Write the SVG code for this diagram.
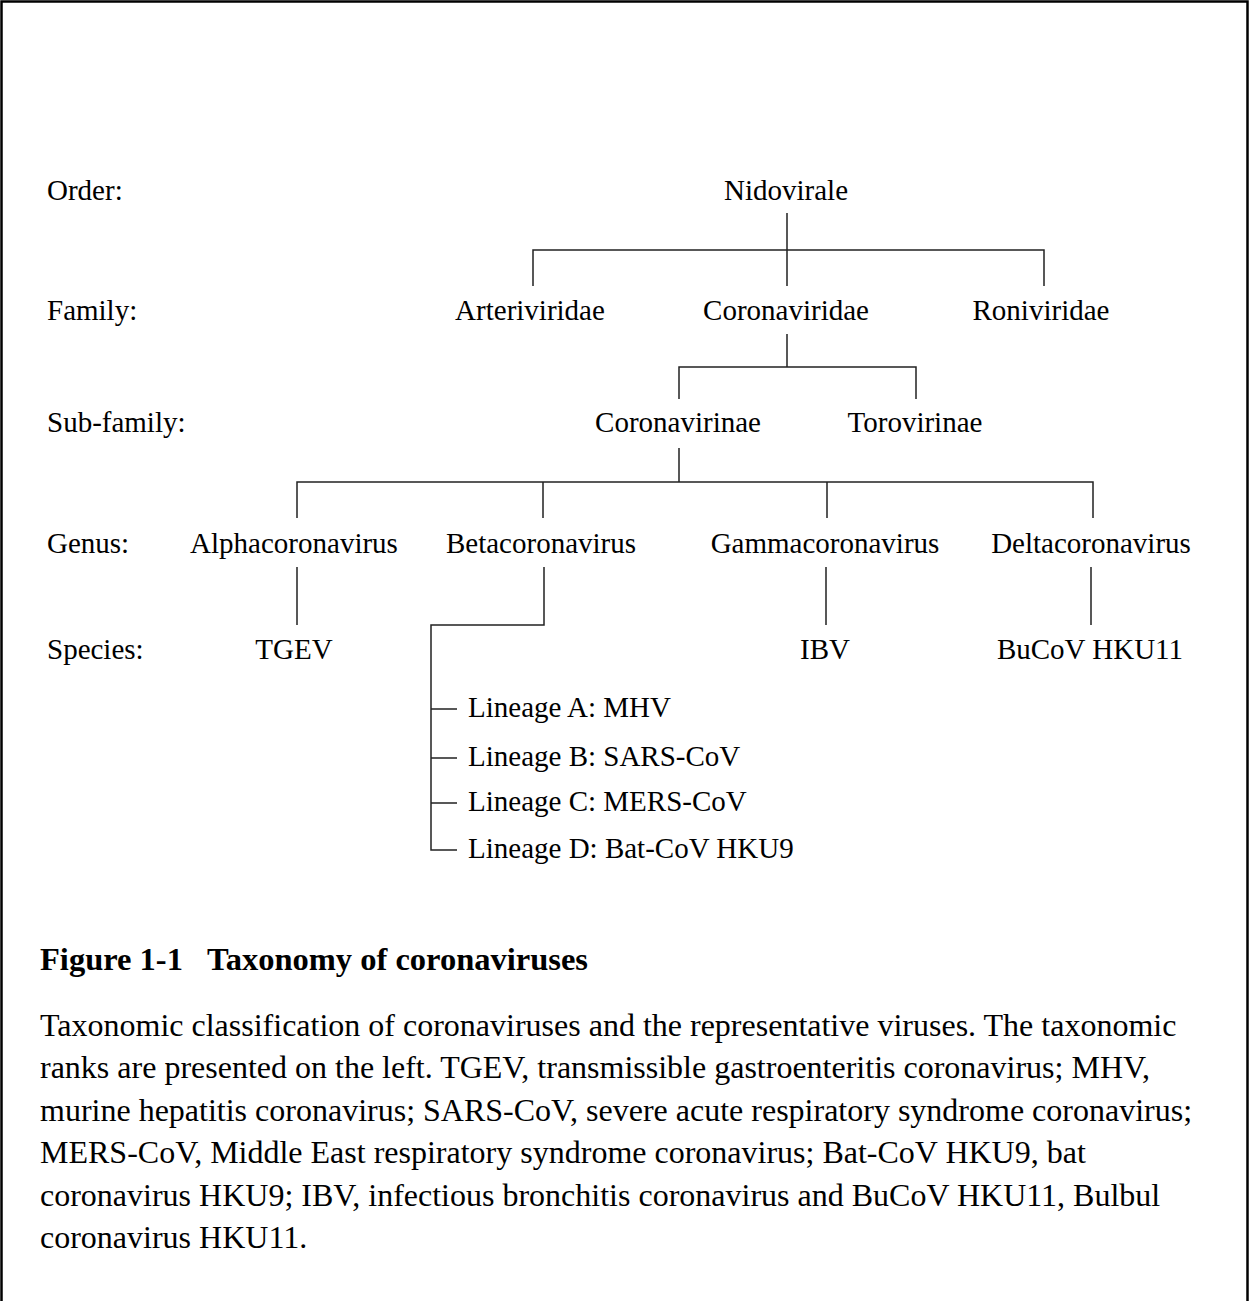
<svg xmlns="http://www.w3.org/2000/svg" width="1249" height="1301" viewBox="0 0 1249 1301">
<style>
text{font-family:"Liberation Serif","Times New Roman",serif;font-size:29px;fill:#000}
.c{text-anchor:middle}
.b{font-weight:bold;font-size:32.5px}
.cap{font-size:32px}
.ln{fill:none;stroke:#222;stroke-width:1.5}
</style>
<rect width="1249" height="1301" fill="#fff"/>
<path d="M1.5,1301 V1.5 H1247.5 V1301" fill="none" stroke="#000" stroke-width="2.5"/>
<g id="ranks">
<text x="47" y="200">Order:</text>
<text x="47" y="320">Family:</text>
<text x="47" y="432">Sub-family:</text>
<text x="47" y="553">Genus:</text>
<text x="47" y="659">Species:</text>
</g>
<g id="connectors" class="ln">
<path d="M787,213 V286 M533,286 V250 H1044 V286"/>
<path d="M787,334 V367 M679,399 V367 H916 V399"/>
<path d="M679,448 V482 M297,518 V482 H1093 V518 M543,482 V518 M827,482 V518"/>
<path d="M297,567 V625 M826,567 V625 M1091,567 V625"/>
<path d="M544,567 V625 H431 V850 H457 M431,709 H457 M431,758 H457 M431,803 H457"/>
</g>
<g id="n-nidovirale"><text class="c" x="786" y="200">Nidovirale</text></g>
<g id="n-arteriviridae"><text class="c" x="530" y="320">Arteriviridae</text></g>
<g id="n-coronaviridae"><text class="c" x="786" y="320">Coronaviridae</text></g>
<g id="n-roniviridae"><text class="c" x="1041" y="320">Roniviridae</text></g>
<g id="n-coronavirinae"><text class="c" x="678" y="432">Coronavirinae</text></g>
<g id="n-torovirinae"><text class="c" x="915" y="432">Torovirinae</text></g>
<g id="n-alpha"><text class="c" x="294" y="553">Alphacoronavirus</text></g>
<g id="n-beta"><text class="c" x="541" y="553">Betacoronavirus</text></g>
<g id="n-gamma"><text class="c" x="825" y="553">Gammacoronavirus</text></g>
<g id="n-delta"><text class="c" x="1091" y="553">Deltacoronavirus</text></g>
<g id="n-tgev"><text class="c" x="294" y="659">TGEV</text></g>
<g id="n-ibv"><text class="c" x="825" y="659">IBV</text></g>
<g id="n-bucov"><text class="c" x="1090" y="659">BuCoV HKU11</text></g>
<g id="n-linA"><text x="468" y="717">Lineage A: MHV</text></g>
<g id="n-linB"><text x="468" y="766">Lineage B: SARS-CoV</text></g>
<g id="n-linC"><text x="468" y="811">Lineage C: MERS-CoV</text></g>
<g id="n-linD"><text x="468" y="858">Lineage D: Bat-CoV HKU9</text></g>
<g id="caption">
<text class="b" x="40" y="970">Figure 1-1</text>
<text class="b" x="207" y="970">Taxonomy of coronaviruses</text>
<text class="cap" x="40" y="1036">Taxonomic classification of coronaviruses and the representative viruses. The taxonomic</text>
<text class="cap" x="40" y="1078">ranks are presented on the left. TGEV, transmissible gastroenteritis coronavirus; MHV,</text>
<text class="cap" x="40" y="1121">murine hepatitis coronavirus; SARS-CoV, severe acute respiratory syndrome coronavirus;</text>
<text class="cap" x="40" y="1163">MERS-CoV, Middle East respiratory syndrome coronavirus; Bat-CoV HKU9, bat</text>
<text class="cap" x="40" y="1206">coronavirus HKU9; IBV, infectious bronchitis coronavirus and BuCoV HKU11, Bulbul</text>
<text class="cap" x="40" y="1248">coronavirus HKU11.</text>
</g>
</svg>
